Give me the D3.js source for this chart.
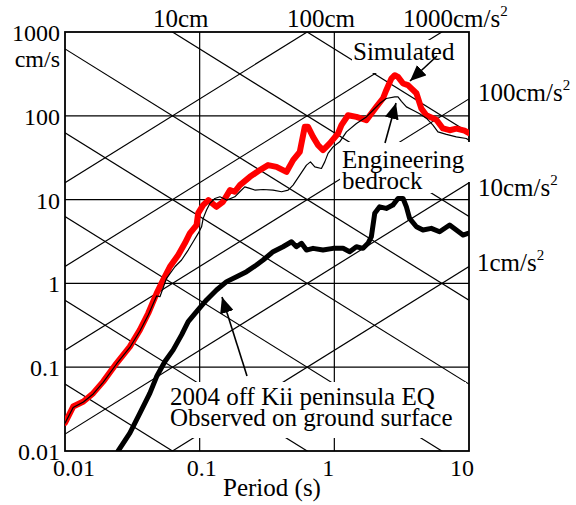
<!DOCTYPE html>
<html>
<head>
<meta charset="utf-8">
<script src="https://cdn.jsdelivr.net/npm/d3@7"></script>
<style>
  body { margin: 0; background: #fff; }
  svg text { font-family: "Liberation Serif", "Times New Roman", serif; fill: #000; }
</style>
</head>
<body>
<svg id="chart"></svg>
<script>
//begin: data (period in s, pseudo velocity in cm/s)
var simPeriod = [0.010, 0.0115, 0.0137, 0.0162, 0.0192, 0.0242, 0.0303, 0.0360, 0.0415, 0.0479,
  0.0536, 0.0601, 0.0693, 0.0776, 0.0845, 0.0948, 0.0975, 0.106, 0.116, 0.133,
  0.149, 0.168, 0.182, 0.199, 0.236, 0.280, 0.322, 0.372, 0.441, 0.494,
  0.554, 0.603, 0.638, 0.695, 0.757, 0.824, 0.925, 1.065, 1.129, 1.264,
  1.459, 1.730, 2.05, 2.30, 2.43, 2.65, 2.81, 2.97, 3.24, 3.52,
  4.07, 4.43, 4.82, 5.72, 6.40, 7.18, 8.05, 9.27, 10.0];
var simVel = [0.0217, 0.0339, 0.0389, 0.049, 0.0673, 0.112, 0.176, 0.279, 0.44, 0.762,
  1.10, 1.58, 2.18, 3.01, 3.95, 4.97, 6.90, 8.6, 9.86, 8.2,
  9.41, 12.97, 12.4, 14.9, 18.7, 22.5, 25.8, 24.6, 21.4, 29.6,
  37.1, 73.8, 73.8, 56.1, 44.7, 38.9, 46.8, 61.5, 77.3, 101.6,
  97, 88.7, 127.7, 162, 202, 278, 305, 291, 243, 232,
  186, 122, 101.6, 89.9, 70.6, 67.3, 70.2, 66.4, 62];

var bedPeriod = [0.010, 0.0115, 0.0137, 0.0162, 0.0192, 0.0242, 0.0303, 0.0360, 0.0415, 0.0479,
  0.0507, 0.0568, 0.0655, 0.0734, 0.0822, 0.0895, 0.0975, 0.1033, 0.1062, 0.1125,
  0.1191, 0.1297, 0.1413, 0.1585, 0.1824, 0.1987, 0.2163, 0.2356, 0.2566, 0.296,
  0.351, 0.406, 0.454, 0.494, 0.554, 0.621, 0.665, 0.716, 0.802, 0.849,
  0.898, 0.978, 1.096, 1.230, 1.459, 1.730, 1.936, 2.17, 2.43, 2.81,
  2.97, 3.15, 3.43, 3.84, 4.30, 4.82, 5.40, 5.88, 6.79, 8.05,
  9.55, 10.0];
var bedVel = [0.0215, 0.033, 0.0385, 0.048, 0.066, 0.11, 0.172, 0.27, 0.42, 0.708,
  0.694, 1.15, 1.58, 1.90, 2.50, 3.14, 3.95, 4.74, 5.97, 7.5,
  9.0, 10.3, 10.8, 9.87, 10.8, 12.4, 14.2, 13.6, 13.0, 13.2,
  13.0, 12.4, 13.0, 14.9, 19.6, 25.8, 28.2, 24.6, 23.5, 28.2,
  35.6, 42.6, 48.9, 64.3, 80.9, 97, 116.6, 140, 161, 168,
  168, 149, 127.7, 116.6, 106, 93.6, 77.3, 64.3, 60, 56.1,
  53.6, 51.2];

var obsPeriod = [0.0248, 0.0303, 0.0360, 0.0427, 0.0479, 0.0552, 0.0636, 0.0734, 0.0822, 0.0948,
  0.1125, 0.1334, 0.1585, 0.188, 0.223, 0.264, 0.296, 0.351, 0.416, 0.481,
  0.523, 0.570, 0.621, 0.695, 0.824, 0.978, 1.161, 1.30, 1.459, 1.633,
  1.778, 1.884, 1.995, 2.17, 2.43, 2.72, 2.97, 3.24, 3.43, 3.62,
  4.07, 4.55, 5.25, 6.05, 7.18, 8.05, 9.02, 9.82];
var obsVel = [0.01, 0.0163, 0.0283, 0.049, 0.0773, 0.117, 0.161, 0.243, 0.35, 0.46,
  0.634, 0.834, 1.05, 1.20, 1.38, 1.66, 1.90, 2.39, 2.74, 3.14,
  2.74, 3.01, 2.50, 2.62, 2.50, 2.62, 2.62, 2.39, 2.74, 2.62,
  3.01, 3.61, 6.85, 8.2, 7.85, 8.6, 10.3, 10.3, 8.2, 5.97,
  4.74, 4.33, 4.54, 4.13, 4.97, 4.33, 3.78, 3.95];

var xTicks = [0.01, 0.1, 1, 10];
var xTickLabels = ["0.01", "0.1", "1", "10"];
var yTicks = [0.01, 0.1, 1, 10, 100, 1000];
var yTickLabels = ["0.01", "0.1", "1", "10", "100", "1000"];
var dispLines = [0.0001, 0.001, 0.01, 0.1, 1, 10, 100];   // cm
var accLines = [1, 10, 100, 1000, 10000];                 // cm/s^2
//end: data

//begin: layout conf.
var svgWidth = 576,
    svgHeight = 505,
    margin = {top: 32, right: 107, bottom: 54, left: 65},
    width = svgWidth - margin.left - margin.right,
    height = svgHeight - margin.top - margin.bottom;
var _2PI = 2 * Math.PI;
//end: layout conf.

var x = d3.scaleLog().domain([0.01, 10]).range([margin.left, margin.left + width]);
var y = d3.scaleLog().domain([0.01, 1000]).range([margin.top + height, margin.top]);

var svg = d3.select("#chart")
    .attr("width", svgWidth)
    .attr("height", svgHeight);

svg.append("defs").append("clipPath")
    .attr("id", "plotClip")
  .append("rect")
    .attr("x", margin.left).attr("y", margin.top)
    .attr("width", width).attr("height", height);

var marker = svg.select("defs").append("marker")
    .attr("id", "arrow")
    .attr("markerUnits", "userSpaceOnUse")
    .attr("markerWidth", 18).attr("markerHeight", 14)
    .attr("refX", 16).attr("refY", 7)
    .attr("orient", "auto");
marker.append("path").attr("d", "M0,0L16,7L0,14Z").attr("fill", "#000");

var line = d3.line()
    .x(function(d){ return x(d[0]); })
    .y(function(d){ return y(d[1]); });

//begin: grid
var grid = svg.append("g").attr("clip-path", "url(#plotClip)")
    .attr("stroke", "#000").attr("stroke-width", 1.2).attr("fill", "none");

grid.selectAll(".vline").data([0.1, 1]).enter().append("line")
    .attr("x1", function(d){ return x(d); }).attr("x2", function(d){ return x(d); })
    .attr("y1", y(0.01)).attr("y2", y(1000));
grid.selectAll(".hline").data([0.1, 1, 10, 100]).enter().append("line")
    .attr("x1", x(0.01)).attr("x2", x(10))
    .attr("y1", function(d){ return y(d); }).attr("y2", function(d){ return y(d); });

grid.selectAll(".disp").data(dispLines).enter().append("path")
    .attr("d", function(D){ return line([0.01, 10].map(function(T){ return [T, _2PI * D / T]; })); });
grid.selectAll(".acc").data(accLines).enter().append("path")
    .attr("d", function(A){ return line([0.01, 10].map(function(T){ return [T, A * T / _2PI]; })); });
//end: grid

// frame
svg.append("rect")
    .attr("x", margin.left).attr("y", margin.top)
    .attr("width", width).attr("height", height)
    .attr("fill", "none").attr("stroke", "#000").attr("stroke-width", 1.8);

// white label backgrounds (hide grid lines under the annotations)
var boxes = [[352, 40, 114, 33], [340, 142, 132, 40], [340, 170, 92, 23], [168, 382, 298, 56]];
svg.selectAll(".box").data(boxes).enter().append("rect")
    .attr("x", function(d){ return d[0]; }).attr("y", function(d){ return d[1]; })
    .attr("width", function(d){ return d[2]; }).attr("height", function(d){ return d[3]; })
    .attr("fill", "#fff");

//begin: curves
var curves = svg.append("g").attr("clip-path", "url(#plotClip)")
    .attr("fill", "none").attr("stroke-linejoin", "round").attr("stroke-linecap", "round");

curves.append("path")
    .datum(d3.zip(simPeriod, simVel))
    .attr("d", line).attr("stroke", "#ff0000").attr("stroke-width", 6);
curves.append("path")
    .datum(d3.zip(bedPeriod, bedVel))
    .attr("d", line).attr("stroke", "#000").attr("stroke-width", 1.2);
curves.append("path")
    .datum(d3.zip(obsPeriod, obsVel))
    .attr("d", line).attr("stroke", "#000").attr("stroke-width", 5);
//end: curves

//begin: axis labels
var fs = 24;
svg.selectAll(".ytick").data(yTicks).enter().append("text")
    .attr("x", margin.left - 5)
    .attr("y", function(d){ return y(d) + 9; })
    .attr("text-anchor", "end")
    .style("font-size", fs + "px")
    .text(function(d, i){ return yTickLabels[i]; });
svg.append("text")
    .attr("x", margin.left - 5).attr("y", y(1000) + 35)
    .attr("text-anchor", "end").style("font-size", fs + "px")
    .text("cm/s");

var xOffsets = [9, 2, -6, -7];
svg.selectAll(".xtick").data(xTicks).enter().append("text")
    .attr("x", function(d, i){ return x(d) + xOffsets[i]; })
    .attr("y", y(0.01) + 25)
    .attr("text-anchor", "middle")
    .style("font-size", fs + "px")
    .text(function(d, i){ return xTickLabels[i]; });

svg.append("text")
    .attr("x", 272).attr("y", 496)
    .attr("text-anchor", "middle").style("font-size", "25px")
    .text("Period (s)");
//end: axis labels

//begin: diagonal labels
function unitLabel(tx, ty, main, sup) {
  var t = svg.append("text").attr("x", tx).attr("y", ty).style("font-size", "25px");
  t.append("tspan").text(main);
  if (sup) {
    t.append("tspan").attr("dy", -11).style("font-size", "15px").text(sup);
  }
}
unitLabel(153, 27, "10cm");
unitLabel(287, 27, "100cm");
unitLabel(403, 27, "1000cm/s", "2");
unitLabel(478, 101, "100cm/s", "2");
unitLabel(478, 196, "10cm/s", "2");
unitLabel(477, 271, "1cm/s", "2");
//end: diagonal labels

//begin: annotations
function note(tx, ty, lines) {
  var t = svg.append("text").attr("x", tx).attr("y", ty).style("font-size", "25px");
  lines.forEach(function(s, i){
    t.append("tspan").attr("x", tx).attr("dy", i ? 21 : 0).text(s);
  });
}
note(353, 60, ["Simulated"]);
note(342, 168, ["Engineering", "bedrock"]);
note(170, 405, ["2004 off Kii peninsula EQ", "Observed on ground surface"]);

var arrows = [[437, 56, 410, 81], [385, 143, 396, 103], [247, 376, 222, 297]];
svg.selectAll(".arrow").data(arrows).enter().append("line")
    .attr("x1", function(d){ return d[0]; }).attr("y1", function(d){ return d[1]; })
    .attr("x2", function(d){ return d[2]; }).attr("y2", function(d){ return d[3]; })
    .attr("stroke", "#000").attr("stroke-width", 1.6)
    .attr("marker-end", "url(#arrow)");
//end: annotations
</script>
</body>
</html>
